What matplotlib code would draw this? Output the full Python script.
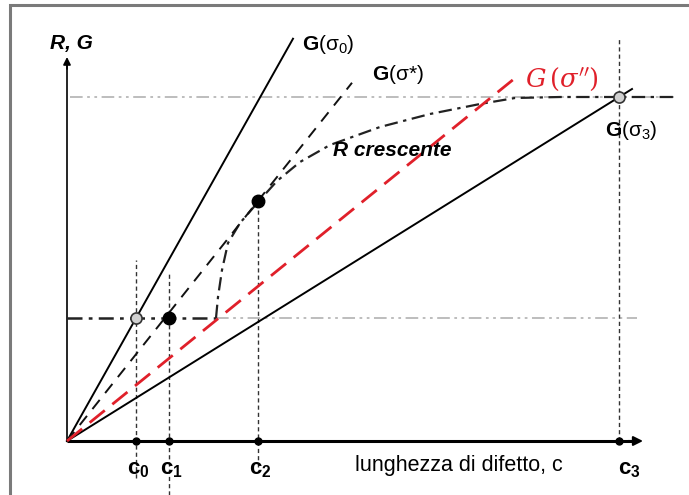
import numpy as np
import matplotlib
matplotlib.use("Agg")
import matplotlib.pyplot as plt

plt.rcParams['font.family'] = ['Liberation Sans', 'DejaVu Sans']
plt.rcParams['mathtext.fontset'] = 'custom'
plt.rcParams['mathtext.rm'] = 'Liberation Sans'
plt.rcParams['mathtext.bf'] = 'Liberation Sans:bold'
plt.rcParams['mathtext.it'] = 'Liberation Sans:italic'

# critical crack lengths c0..c3
c_crit = [0.69, 1.02, 1.91, 5.52]
c_names = ['0', '1', '2', '3']

# resistance levels
R_low = 1.23
R_high = 3.44

# G = slope * c for each applied stress, and where each line stops
g_slope = {'s0': 1.78, 'star': 1.257, 'sec': 0.81, 's3': 0.623}
g_cend = {'s0': 2.26, 'star': 2.85, 'sec': 4.46, 's3': 5.65}

# rising R-curve
r_c = [1.49, 1.51, 1.55, 1.61, 1.73, 1.92, 2.10, 2.33, 2.63, 3.13, 3.63,
       4.13, 4.48, 4.93, 6.07]
r_R = [1.23, 1.44, 1.71, 1.98, 2.18, 2.40, 2.60, 2.79, 2.96, 3.14, 3.27,
       3.37, 3.43, 3.44, 3.44]

fig = plt.figure(figsize=(6.89, 4.95), dpi=100)
ax = fig.add_axes([0, 0, 1, 1])
ax.set_xlim(-0.67, 6.22)
ax.set_ylim(-0.54, 4.41)
ax.axis('off')

# outer frame (left and top edges)
fx = 10 / 689
fy = 1 - 5 / 495
ax.plot([fx, fx, 1], [0, fy, fy], color='#7a7a7a', lw=2.2,
        transform=ax.transAxes, clip_on=False, solid_joinstyle='miter')

# axes with arrows
x_end, y_end = 5.76, 3.84
ax.plot([0, x_end - 0.1], [0, 0], color='black', lw=2.2, solid_capstyle='butt')
ax.annotate('', xy=(x_end, 0), xytext=(x_end - 0.15, 0),
            arrowprops=dict(arrowstyle='-|>', color='black', lw=1.5,
                            mutation_scale=14, shrinkA=0, shrinkB=0))
ax.plot([0, 0], [0, y_end - 0.08], color='black', lw=1.2)
ax.annotate('', xy=(0, y_end), xytext=(0, y_end - 0.12),
            arrowprops=dict(arrowstyle='-|>', color='black', lw=1.2,
                            mutation_scale=11, shrinkA=0, shrinkB=0))

light = '#b8b8b8'
dd = (0, (7, 2.5, 1.5, 2.5, 1.5, 2.5))
# light guide lines at the two resistance levels
ax.plot([0.03, 6.07], [R_high, R_high], color=light, lw=1.3, linestyle=dd)
ax.plot([1.49, 5.70], [R_low, R_low], color=light, lw=1.3, linestyle=dd)

# flat R up to the onset of growth, then R-curve
dk = (0, (6, 2.5, 1.5, 2.5))
ax.plot([0, r_c[0]], [R_low, R_low], color='#222222', lw=1.8, linestyle=dk)
ax.plot(r_c, r_R, color='#222222', lw=1.6, linestyle=dk)

# vertical guides at critical lengths
vdash = (0, (3, 2.2))
v_top = [1.81, 1.68, r_R[5], 4.03]
v_bot = [-0.37, -0.54, -0.26, 0]
for c, t, b in zip(c_crit, v_top, v_bot):
    ax.plot([c, c], [b, t], color='#333333', lw=1.0, linestyle=vdash)

# driving force lines
c = np.array([0, g_cend['s0']])
ax.plot(c, g_slope['s0'] * c, color='black', lw=1.4)
c = np.array([0, g_cend['s3']])
ax.plot(c, g_slope['s3'] * c, color='black', lw=1.4)
c = np.array([0, g_cend['star']])
ax.plot(c, g_slope['star'] * c, color='#111111', lw=1.4,
        linestyle=(0, (6, 4.5)))
c = np.array([0, g_cend['sec']])
ax.plot(c, g_slope['sec'] * c, color='#e0202a', lw=2.0,
        linestyle=(0, (7, 3.5)))

# markers
ax.plot(c_crit, [0] * 4, 'o', color='black', ms=5, zorder=5)
ax.plot([c_crit[0], c_crit[3]], [R_low, R_high], 'o', mfc='#d0d0d0',
        mec='#333333', mew=1.2, ms=8, zorder=6)
ax.plot([c_crit[1], c_crit[2]], [R_low, r_R[5]], 'o', color='black',
        ms=9, zorder=6)

# labels
ax.text(0.04, 3.98, 'R, G', fontsize=15, fontweight='bold', style='italic',
        ha='center', va='center')
ax.text(2.35, 3.96, r'$\mathbf{G}(\mathrm{σ}_{0})$', fontsize=15,
        ha='left', va='center')
ax.text(3.05, 3.66, r'$\mathbf{G}(\mathrm{σ}$*$)$', fontsize=15,
        ha='left', va='center')
ax.text(5.38, 3.10, r'$\mathbf{G}(\mathrm{σ}_{3})$', fontsize=15,
        ha='left', va='center')
ax.text(4.58, 3.62, r"$G\,(\sigma'')$", fontsize=18.5, color='#e0202a',
        math_fontfamily='dejavuserif', ha='left', va='center')
ax.text(2.66, 2.91, 'R crescente', fontsize=15, fontweight='bold',
        style='italic', ha='left', va='center')
ax.text(2.88, -0.24, 'lunghezza di difetto, c', fontsize=15.5,
        ha='left', va='center')
for c, n in zip(c_crit, c_names):
    ax.text(c - 0.09 if n != '3' else c - 0.01, -0.28,
            r'$\mathbf{c}_{\mathbf{%s}}$' % n, fontsize=16,
            ha='left', va='center')

fig.savefig('out.png', dpi=100)
